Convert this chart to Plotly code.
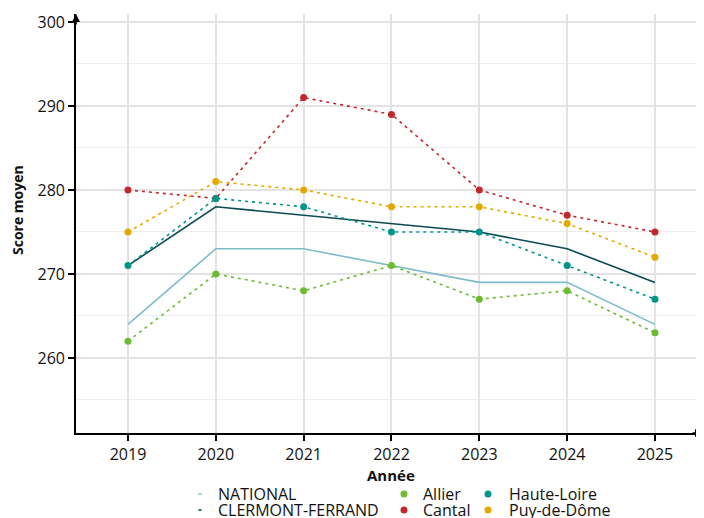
import plotly.graph_objects as go

years = [2019, 2020, 2021, 2022, 2023, 2024, 2025]
national = [264, 273, 273, 271, 269, 269, 264]
clermont = [271, 278, 277, 276, 275, 273, 269]
allier = [262, 270, 268, 271, 267, 268, 263]
cantal = [280, 279, 291, 289, 280, 277, 275]
haute_loire = [271, 279, 278, 275, 275, 271, 267]
puy_de_dome = [275, 281, 280, 278, 278, 276, 272]

y_ticks = [260, 270, 280, 290, 300]

C_NAT = "#7FBCCA"
C_CF = "#0B4A52"
C_ALL = "#6DBB31"
C_CAN = "#C1272D"
C_HL = "#00958A"
C_PDD = "#E4A900"

FONT = "Open Sans"
TXT = "#111111"

fig = go.Figure()

fig.add_trace(go.Scatter(x=years, y=national, mode="lines", name="NATIONAL",
                         line=dict(color=C_NAT, width=1.6), showlegend=False))
fig.add_trace(go.Scatter(x=years, y=clermont, mode="lines", name="CLERMONT-FERRAND",
                         line=dict(color=C_CF, width=1.6), showlegend=False))

for name, vals, col in [("Allier", allier, C_ALL), ("Cantal", cantal, C_CAN),
                        ("Puy-de-Dôme", puy_de_dome, C_PDD), ("Haute-Loire", haute_loire, C_HL)]:
    fig.add_trace(go.Scatter(x=years, y=vals, mode="lines+markers", name=name,
                             line=dict(color=col, width=1.6, dash="3px,4px"),
                             marker=dict(color=col, size=7), showlegend=False))

# page body has an 8px default margin: the figure starts at (8, 8)
OFF = 8
W, H = 704 - OFF, 518 - OFF
ml, mr, mt, mb = 76 - OFF, 1, 14 - OFF, 85


def px_x(px):
    return (px - OFF - ml) / (W - ml - mr)


def px_y(py):
    return 1 - (py - OFF - mt) / (H - mt - mb)


# manual legend: (name, colour, kind, symbol x, text x, row y) in page pixels
legend_items = [
    ("NATIONAL", C_NAT, "line", 200, 216, 494),
    ("CLERMONT-FERRAND", C_CF, "line", 200, 216, 510),
    ("Allier", C_ALL, "pt", 404, 421, 494),
    ("Cantal", C_CAN, "pt", 404, 421, 510),
    ("Haute-Loire", C_HL, "pt", 488, 507, 494),
    ("Puy-de-Dôme", C_PDD, "pt", 488, 507, 510),
]

shapes = []
annotations = []
for name, col, kind, sx, tx, ry in legend_items:
    if kind == "line":
        shapes.append(dict(type="line", xref="paper", yref="paper", xsizemode="pixel", ysizemode="pixel",
                           xanchor=px_x(sx), yanchor=px_y(ry), x0=-1.5, x1=1.5, y0=0, y1=0,
                           line=dict(color=col, width=1.6)))
    else:
        shapes.append(dict(type="circle", xref="paper", yref="paper", xsizemode="pixel", ysizemode="pixel",
                           xanchor=px_x(sx), yanchor=px_y(ry), x0=-3.5, x1=3.5, y0=-3.5, y1=3.5,
                           fillcolor=col, line=dict(width=0)))
    annotations.append(dict(text=name, xref="paper", yref="paper", x=px_x(tx), y=px_y(ry),
                            xanchor="left", yanchor="middle", showarrow=False,
                            font=dict(family=FONT, size=16, color=TXT)))

annotations += [
    dict(text="<b>Score moyen</b>", textangle=-90, xref="paper", yref="paper",
         x=px_x(18), y=px_y(210), showarrow=False, xanchor="center", yanchor="middle",
         font=dict(family=FONT, size=14, color=TXT)),
    dict(text="<b>Année</b>", xref="paper", yref="paper",
         x=px_x(391), y=px_y(475), showarrow=False, xanchor="center", yanchor="middle",
         font=dict(family=FONT, size=15, color=TXT)),
    dict(x=0, y=1, xref="paper", yref="paper", ax=0, ay=12, axref="pixel", ayref="pixel",
         showarrow=True, arrowhead=2, arrowsize=1, arrowwidth=1.6, arrowcolor="black", text=""),
    dict(x=1, y=0, xref="paper", yref="paper", ax=-12, ay=0, axref="pixel", ayref="pixel",
         showarrow=True, arrowhead=2, arrowsize=1, arrowwidth=1.6, arrowcolor="black", text=""),
]

fig.update_layout(
    width=W, height=H,
    margin=dict(l=ml, r=mr, t=mt, b=mb, autoexpand=False),
    plot_bgcolor="white", paper_bgcolor="white",
    font=dict(family=FONT, size=16, color=TXT),
    showlegend=False,
    xaxis=dict(range=[2018.408, 2025.547], tickvals=years, ticktext=[str(y) for y in years],
               showgrid=True, gridcolor="#E3E3E3", gridwidth=1.8,
               showline=True, linecolor="black", linewidth=1.6,
               ticks="outside", ticklen=6, tickcolor="black", tickwidth=1.6,
               tickfont=dict(family=FONT, size=16, color=TXT),
               zeroline=False, fixedrange=True, automargin=False),
    yaxis=dict(range=[251.07, 300.95], tickvals=y_ticks,
               showgrid=True, gridcolor="#E3E3E3", gridwidth=1.8,
               minor=dict(dtick=5, tick0=255, showgrid=True, gridcolor="#EDEDED", gridwidth=1.4, ticks=""),
               showline=True, linecolor="black", linewidth=1.6,
               ticks="outside", ticklen=6, tickcolor="black", tickwidth=1.6,
               tickfont=dict(family=FONT, size=16, color=TXT),
               zeroline=False, fixedrange=True, automargin=False),
    shapes=shapes,
    annotations=annotations,
)

fig.write_html("out.html")
